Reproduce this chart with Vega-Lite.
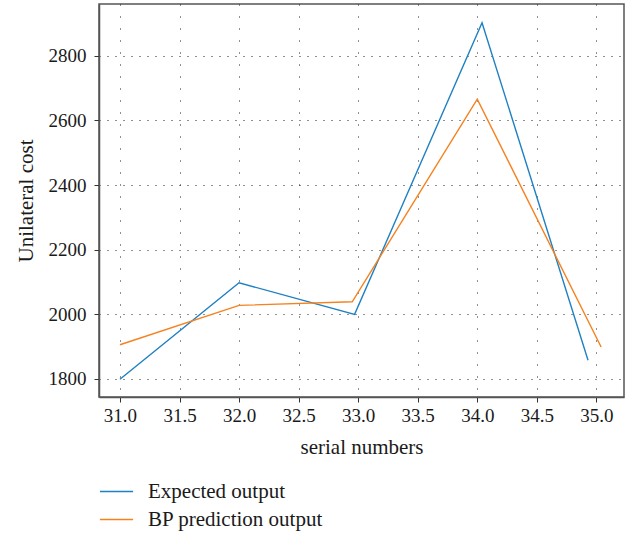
{
  "$schema": "https://vega.github.io/schema/vega-lite/v6.json",
  "autosize": {"type": "none"},
  "width": 525,
  "height": 393,
  "padding": {"left": 99, "top": 4, "right": 8, "bottom": 138},
  "background": "white",
  "config": {
    "font": "Liberation Serif",
    "view": {"stroke": "#555555", "strokeWidth": 1.5},
    "axis": {
      "labelFont": "Liberation Serif, DejaVu Serif, serif",
      "titleFont": "Liberation Serif",
      "labelFontSize": 19,
      "titleFontSize": 21,
      "labelColor": "#1a1a1a",
      "titleColor": "#1a1a1a",
      "titleFontWeight": "normal",
      "domainColor": "#555555",
      "domainWidth": 1.5,
      "tickColor": "#333333",
      "tickSize": 5,
      "tickWidth": 1,
      "gridColor": "#222222",
      "gridWidth": 1,
      "gridOpacity": 1
    },
    "legend": {
      "labelFont": "Liberation Serif",
      "labelFontSize": 21,
      "labelColor": "#1a1a1a",
      "labelLimit": 400
    }
  },
  "data": {
    "values": [
      {"serial": 31.0, "cost": 1798, "series": "Expected output"},
      {"serial": 32.0, "cost": 2097, "series": "Expected output"},
      {"serial": 32.97, "cost": 1999, "series": "Expected output"},
      {"serial": 34.04, "cost": 2903, "series": "Expected output"},
      {"serial": 34.93, "cost": 1857, "series": "Expected output"},
      {"serial": 31.0, "cost": 1905, "series": "BP prediction output"},
      {"serial": 32.0, "cost": 2027, "series": "BP prediction output"},
      {"serial": 32.95, "cost": 2038, "series": "BP prediction output"},
      {"serial": 34.0, "cost": 2666, "series": "BP prediction output"},
      {"serial": 35.04, "cost": 1898, "series": "BP prediction output"}
    ]
  },
  "mark": {"type": "line", "strokeWidth": 1.4},
  "encoding": {
    "x": {
      "field": "serial",
      "type": "quantitative",
      "scale": {"domain": [30.824, 35.232], "nice": false, "zero": false},
      "axis": {
        "title": "serial numbers",
        "values": [31, 31.5, 32, 32.5, 33, 33.5, 34, 34.5, 35],
        "format": ".1f",
        "labelPadding": 4,
        "titlePadding": 11,
        "gridDash": [1, 11]
      }
    },
    "y": {
      "field": "cost",
      "type": "quantitative",
      "scale": {"domain": [1743, 2961], "nice": false, "zero": false},
      "axis": {
        "title": "Unilateral cost",
        "values": [1800, 2000, 2200, 2400, 2600, 2800],
        "format": "d",
        "labelPadding": 8,
        "titlePadding": 12,
        "gridDash": [1, 7]
      }
    },
    "color": {
      "field": "series",
      "type": "nominal",
      "sort": ["Expected output", "BP prediction output"],
      "scale": {"domain": ["Expected output", "BP prediction output"], "range": ["#1f80c2", "#f5821f"]},
      "legend": {
        "title": null,
        "orient": "none",
        "legendX": 0,
        "legendY": 470,
        "symbolType": "stroke",
        "symbolSize": 1100,
        "symbolStrokeWidth": 1.4,
        "labelOffset": 14,
        "rowPadding": -7,
        "direction": "vertical"
      }
    }
  }
}
